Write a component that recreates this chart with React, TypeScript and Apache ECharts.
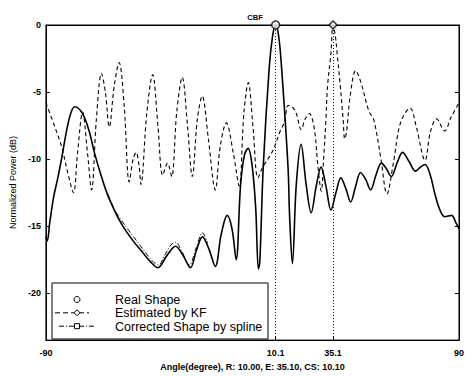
import React, { useEffect, useRef } from "react";
import * as echarts from "echarts";

// Angle (degree) vs normalized power (dB)
const realShape: number[][] = [
  [-90.0, -15.8], [-89.4, -16.1], [-88.3, -14.7], [-86.6, -12.8], [-84.8, -11.4], [-83.1, -9.9],
  [-80.9, -7.8], [-79.2, -6.6], [-77.5, -6.1], [-75.3, -6.3], [-73.2, -6.9], [-71.0, -8.0],
  [-68.9, -9.5], [-65.8, -11.3], [-62.8, -12.8], [-57.2, -14.8], [-52.0, -16.1], [-48.6, -16.8],
  [-44.2, -17.7], [-41.2, -18.1], [-37.3, -17.2], [-33.5, -16.5], [-30.2, -17.2], [-27.0, -18.1],
  [-24.4, -16.8], [-21.8, -15.8], [-19.0, -16.7], [-16.2, -18.0], [-13.6, -15.6], [-11.0, -14.2],
  [-8.9, -15.2], [-7.1, -17.5], [-5.2, -12.0], [-3.5, -9.7], [-1.9, -9.2], [-0.2, -10.4],
  [1.4, -13.6], [2.6, -18.2], [3.2, -17.7], [4.7, -10.6], [7.3, -3.2], [8.8, -0.8], [10.1, 0],
  [11.4, -0.8], [12.7, -3.2], [15.5, -10.6], [16.2, -14.3], [17.4, -17.8], [19.1, -11.9],
  [21.2, -8.9], [23.4, -11.9], [25.6, -14.0], [27.8, -12.0], [29.9, -10.6], [32.0, -12.0],
  [34.2, -13.8], [36.4, -12.5], [38.5, -11.4], [40.7, -12.2], [42.8, -13.2], [45.0, -12.0],
  [47.1, -11.0], [49.3, -11.5], [51.5, -12.3], [53.8, -11.2], [56.2, -10.3], [58.3, -10.7],
  [60.5, -11.3], [63.0, -10.3], [65.4, -9.5], [68.3, -10.2], [71.1, -10.9], [73.2, -10.6],
  [75.2, -10.4], [77.5, -11.2], [79.5, -12.6], [81.7, -13.8], [83.8, -14.3], [86.7, -14.2],
  [88.8, -14.8], [90.0, -15.2],
];

const kfEstimate: number[][] = [
  [-90.0, -5.8], [-86.1, -7.6], [-83.1, -9.1], [-80.5, -11.0], [-78.0, -12.5], [-76.2, -9.5],
  [-74.0, -6.5], [-71.9, -9.5], [-70.1, -12.3], [-68.0, -7.0], [-65.8, -3.6], [-64.1, -5.0],
  [-62.4, -7.6], [-60.2, -4.5], [-58.1, -2.8], [-55.9, -6.0], [-53.7, -11.7], [-52.0, -10.0],
  [-50.7, -9.5], [-49.4, -10.5], [-48.6, -11.9], [-46.0, -6.5], [-43.5, -3.7], [-41.2, -7.5],
  [-39.1, -11.2], [-37.0, -10.3], [-35.2, -11.3], [-33.0, -6.5], [-30.6, -3.9], [-28.3, -7.5],
  [-26.2, -11.3], [-24.0, -7.0], [-21.9, -5.3], [-19.2, -8.5], [-16.2, -12.3], [-14.0, -9.0],
  [-11.4, -7.3], [-8.4, -9.5], [-5.8, -12.0], [-3.7, -6.5], [-1.8, -4.3], [0.2, -7.5],
  [2.4, -11.4], [4.5, -10.6], [8.8, -9.4], [11.9, -8.0], [14.0, -7.2], [15.5, -6.0],
  [17.3, -6.1], [19.1, -6.6], [21.2, -7.8], [23.0, -7.0], [24.8, -6.6], [27.0, -7.8],
  [28.5, -10.5], [30.0, -12.4], [31.0, -10.0], [32.0, -7.1], [32.7, -4.6], [34.2, -2.1],
  [35.1, 0], [36.1, -0.8], [36.9, -2.1], [38.3, -4.6], [39.5, -7.0], [40.2, -8.5], [41.0, -8.0],
  [42.5, -5.4], [45.0, -3.4], [47.3, -4.3], [50.7, -6.4], [52.9, -7.1], [55.9, -9.9],
  [58.6, -12.6], [61.5, -10.2], [64.5, -7.3], [68.7, -6.2], [71.4, -7.6], [75.2, -10.1],
  [77.5, -8.0], [80.2, -7.0], [83.8, -7.9], [86.5, -6.9], [90.0, -5.8],
];

const splineCorrected: number[][] = [
  [-63.0, -12.6], [-60.0, -13.8], [-57.0, -14.6], [-54.0, -15.3], [-50.0, -16.2], [-46.0, -17.1],
  [-43.0, -17.7], [-41.0, -17.9], [-38.0, -17.1], [-35.5, -16.4], [-33.5, -16.2], [-31.0, -16.8],
  [-27.5, -17.9], [-24.5, -16.6], [-21.8, -15.5], [-19.5, -16.3],
];

const realPeak: number[][] = [[10.1, 0]];
const kfPeak: number[][] = [[35.1, 0]];
const peakLines = [10.1, 35.1];

const xTicks = [-90, 10.1, 35.1, 90];
const yTicks = [-20, -15, -10, -5, 0];

const legendNames = ["Real Shape", "Estimated by KF", "Corrected Shape by spline"];
const titleText = "CBF";
const xName = "Angle(degree), R: 10.00, E: 35.10, CS: 10.10";
const yName = "Normalized Power (dB)";

const FONT = '"Liberation Sans", Arial, Helvetica, sans-serif';

export default function App() {
  const ref = useRef<HTMLDivElement>(null);
  useEffect(() => {
    if (!ref.current) return;
    const chart = echarts.init(ref.current, undefined, { renderer: "svg" });
    const black = "#000";
    const legendRowY = [299.5, 312.8, 326.2];
    const axisLine = { show: true, onZero: false, lineStyle: { color: black, width: 1 } };
    chart.setOption({
      animation: false,
      backgroundColor: "#fff",
      title: {
        text: titleText,
        left: 250,
        top: 8,
        textAlign: "center",
        textStyle: { fontSize: 7.5, fontWeight: "bold", fontFamily: FONT, color: black },
      },
      grid: {
        left: 44,
        right: 6,
        top: 25,
        bottom: 31,
        show: true,
        borderColor: black,
        borderWidth: 1,
        backgroundColor: "#fff",
      },
      xAxis: [
        {
          type: "value",
          min: -90,
          max: 90,
          position: "bottom",
          name: xName,
          nameLocation: "middle",
          nameGap: 21,
          nameTextStyle: { fontSize: 9, fontWeight: "bold", fontFamily: FONT, color: black },
          axisLine,
          axisTick: { show: true, inside: true, length: 4, customValues: xTicks, lineStyle: { color: black } },
          axisLabel: {
            customValues: xTicks,
            fontSize: 9,
            fontWeight: "bold",
            fontFamily: FONT,
            color: black,
            margin: 8,
            formatter: (v: number) => String(v),
          },
          splitLine: { show: false },
        },
        {
          type: "value",
          min: -90,
          max: 90,
          position: "top",
          axisLine,
          axisTick: { show: true, inside: true, length: 4, customValues: xTicks, lineStyle: { color: black } },
          axisLabel: { show: false },
          splitLine: { show: false },
        },
      ],
      yAxis: [
        {
          type: "value",
          min: -23.5,
          max: 0,
          position: "left",
          name: yName,
          nameLocation: "middle",
          nameGap: 26,
          nameRotate: 90,
          nameTextStyle: { fontSize: 9, fontFamily: FONT, color: black },
          axisLine,
          axisTick: { show: true, inside: true, length: 4, customValues: yTicks, lineStyle: { color: black } },
          axisLabel: {
            customValues: yTicks,
            fontSize: 9,
            fontWeight: "bold",
            fontFamily: FONT,
            color: black,
            margin: 5,
          },
          splitLine: { show: false },
        },
        {
          type: "value",
          min: -23.5,
          max: 0,
          position: "right",
          axisLine,
          axisTick: { show: true, inside: true, length: 4, customValues: yTicks, lineStyle: { color: black } },
          axisLabel: { show: false },
          splitLine: { show: false },
        },
      ],
      series: [
        {
          name: legendNames[2],
          type: "line",
          data: splineCorrected,
          showSymbol: false,
          smooth: 0.35,
          lineStyle: { color: black, width: 1, type: [5, 2, 1, 2] },
          z: 2,
        },
        {
          name: legendNames[1],
          type: "line",
          data: kfEstimate,
          showSymbol: false,
          smooth: 0.35,
          lineStyle: { color: black, width: 1.1, type: [4, 3] },
          z: 3,
        },
        {
          name: legendNames[0],
          type: "line",
          data: realShape,
          showSymbol: false,
          smooth: 0.35,
          lineStyle: { color: black, width: 1.6 },
          z: 4,
          markLine: {
            silent: true,
            symbol: "none",
            label: { show: false },
            lineStyle: { color: black, width: 1, type: [1, 2] },
            data: peakLines.map((v) => ({ xAxis: v })),
          },
        },
        {
          name: "realPeak",
          type: "scatter",
          data: realPeak,
          symbol: "circle",
          symbolSize: 8,
          clip: false,
          itemStyle: { color: "#fff", borderColor: black, borderWidth: 1.5 },
          z: 5,
        },
        {
          name: "kfPeak",
          type: "scatter",
          data: kfPeak,
          symbol: "diamond",
          symbolSize: 8,
          clip: false,
          itemStyle: { color: "#fff", borderColor: black, borderWidth: 1.5 },
          z: 5,
        },
      ],
      graphic: [
        {
          type: "rect",
          z: 100,
          shape: { x: 52, y: 283, width: 216, height: 56 },
          style: { fill: "#fff", stroke: black, lineWidth: 1 },
        },
        {
          type: "circle",
          z: 101,
          shape: { cx: 77, cy: legendRowY[0], r: 3 },
          style: { fill: "#fff", stroke: black, lineWidth: 1 },
        },
        {
          type: "line",
          z: 101,
          shape: { x1: 55, y1: legendRowY[1], x2: 89, y2: legendRowY[1] },
          style: { stroke: black, lineWidth: 1, lineDash: [5, 3] },
        },
        {
          type: "polygon",
          z: 102,
          shape: {
            points: [
              [77, legendRowY[1] - 3],
              [80, legendRowY[1]],
              [77, legendRowY[1] + 3],
              [74, legendRowY[1]],
            ],
          },
          style: { fill: "#fff", stroke: black, lineWidth: 1 },
        },
        {
          type: "line",
          z: 101,
          shape: { x1: 59, y1: legendRowY[2], x2: 95, y2: legendRowY[2] },
          style: { stroke: black, lineWidth: 1, lineDash: [5, 2, 1, 2] },
        },
        {
          type: "rect",
          z: 102,
          shape: { x: 74.5, y: legendRowY[2] - 2.5, width: 5, height: 5 },
          style: { fill: "#fff", stroke: black, lineWidth: 1 },
        },
        ...legendNames.map((n, i) => ({
          type: "text",
          z: 102,
          x: 115,
          y: legendRowY[i] + 0.5,
          style: {
            text: n,
            fontSize: 12.5,
            lineHeight: 12,
            fontFamily: FONT,
            fill: black,
            align: "left",
            verticalAlign: "middle",
          },
        })),
      ],
    });
    return () => chart.dispose();
  }, []);
  return (
    <div
      ref={ref}
      style={{ position: "absolute", left: 0, top: 0, width: 467, height: 376, background: "#fff" }}
    />
  );
}
